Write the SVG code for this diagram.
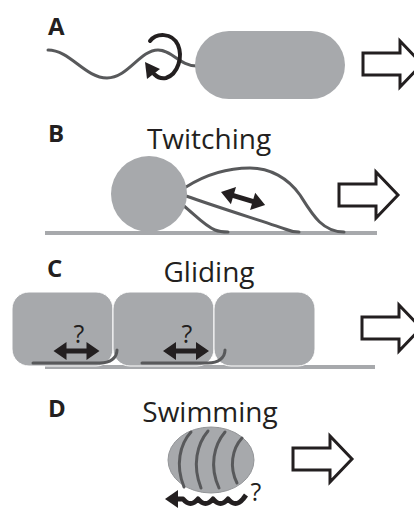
<svg xmlns="http://www.w3.org/2000/svg" width="414" height="508" viewBox="0 0 414 508">
  <style>
    .cell { fill: #a7a9ac; }
    .fil { fill: none; stroke: #58595b; stroke-width: 3; stroke-linecap: round; stroke-linejoin: round; }
    .ground { stroke: #a7a9ac; stroke-width: 4; }
    .ink { fill: #231f20; }
    .move { fill: #fff; stroke: #231f20; stroke-width: 3; stroke-linejoin: miter; }
    .letter { font-family: "Open Sans", "Liberation Sans", sans-serif; font-weight: bold; font-size: 24px; fill: #231f20; }
    .title { font-family: "Open Sans", "Liberation Sans", sans-serif; font-size: 28px; fill: #231f20; text-anchor: middle; }
    .q { font-family: "Open Sans", "Liberation Sans", sans-serif; font-size: 25px; fill: #231f20; text-anchor: middle; }
  </style>
  <defs>
    <!-- hollow arrow showing direction of travel -->
    <path id="travel" class="move" d="M0,-11 H37 V-23 L59,0 L37,23 V11 H0 Z"/>
    <!-- solid double-headed arrow, 46 long -->
    <path id="dbl" class="ink" d="M0,0 L13,-9 V-2.5 H33 V-9 L46,0 L33,9 V2.5 H13 V9 Z"/>
  </defs>

  <rect width="414" height="508" fill="#fff"/>

  <!-- A: flagellar swimming -->
  <g id="panel-a">
    <text class="letter" x="48" y="35">A</text>
    <path class="fil" d="M48,50 C70,50 85,78 107,78 C128,78 140,50 158,50 C172,50 180,66 197,66"/>
    <path d="M150,41 C156,33 172,32 178,45 C183,57 178,74 166,78 C161,79 157,77 154,74" fill="none" stroke="#231f20" stroke-width="4" stroke-linecap="round"/>
    <polygon class="ink" points="145,62 147,79 160,69"/>
    <rect class="cell" x="195" y="31" width="150" height="68" rx="34"/>
    <use href="#travel" transform="translate(363,64)"/>
  </g>

  <!-- B: twitching -->
  <g id="panel-b">
    <text class="letter" x="48" y="142">B</text>
    <text class="title" x="209" y="149">Twitching</text>
    <line class="ground" x1="45" y1="233" x2="377" y2="233"/>
    <path class="fil" d="M186,187 C205,175 225,168 250,168 C270,168 288,178 300,195 C312,214 322,232 344,232"/>
    <path class="fil" d="M186,196 C220,208 265,222 285,229 C292,232 296,232 299,232"/>
    <path class="fil" d="M184,206 C195,215 205,226 215,230 C220,232 224,232 228,232"/>
    <circle class="cell" cx="149" cy="194" r="38"/>
    <use href="#dbl" transform="translate(221,192) rotate(16.5)"/>
    <use href="#travel" transform="translate(339,195)"/>
  </g>

  <!-- C: gliding -->
  <g id="panel-c">
    <text class="letter" x="47" y="277">C</text>
    <text class="title" x="209" y="282">Gliding</text>
    <line class="ground" x1="45" y1="367" x2="375" y2="367"/>
    <rect class="cell" x="12" y="292" width="101" height="74" rx="17" stroke="#fff" stroke-width="1"/>
    <rect class="cell" x="113" y="292" width="101" height="74" rx="17" stroke="#fff" stroke-width="1"/>
    <rect class="cell" x="214" y="292" width="101" height="74" rx="17" stroke="#fff" stroke-width="1"/>
    <path class="fil" d="M33,363 H100 C110,363 117,358 117,350"/>
    <path class="fil" d="M142,363 H208 C218,363 225,358 225,350"/>
    <use href="#dbl" transform="translate(53.5,351)"/>
    <use href="#dbl" transform="translate(163,351)"/>
    <text class="q" x="79" y="343">?</text>
    <text class="q" x="187" y="343">?</text>
    <use href="#travel" transform="translate(362,328)"/>
  </g>

  <!-- D: swimming without flagella -->
  <g id="panel-d">
    <text class="letter" x="48" y="417">D</text>
    <text class="title" x="210" y="422">Swimming</text>
    <ellipse class="cell" cx="211" cy="460" rx="43" ry="33" stroke="#939598" stroke-width="1"/>
    <path class="fil" d="M191,432 C180,444 175,465 184,487"/>
    <path class="fil" d="M208,431 C197,444 192,465 201,488"/>
    <path class="fil" d="M225,432 C214,445 209,466 219,488"/>
    <path class="fil" d="M242,438 C232,449 229,467 237,483"/>
    <polygon class="ink" points="165,499 178,490 178,508"/>
    <path d="M176,499 H183 Q190.5,508 198,499 Q205.5,508 213,499 Q220.5,508 228,499 Q235.5,508 243,499 L246,495" fill="none" stroke="#231f20" stroke-width="5" stroke-linejoin="round"/>
    <text class="q" x="256" y="501" font-size="18">?</text>
    <use href="#travel" transform="translate(293,459)"/>
  </g>
</svg>
